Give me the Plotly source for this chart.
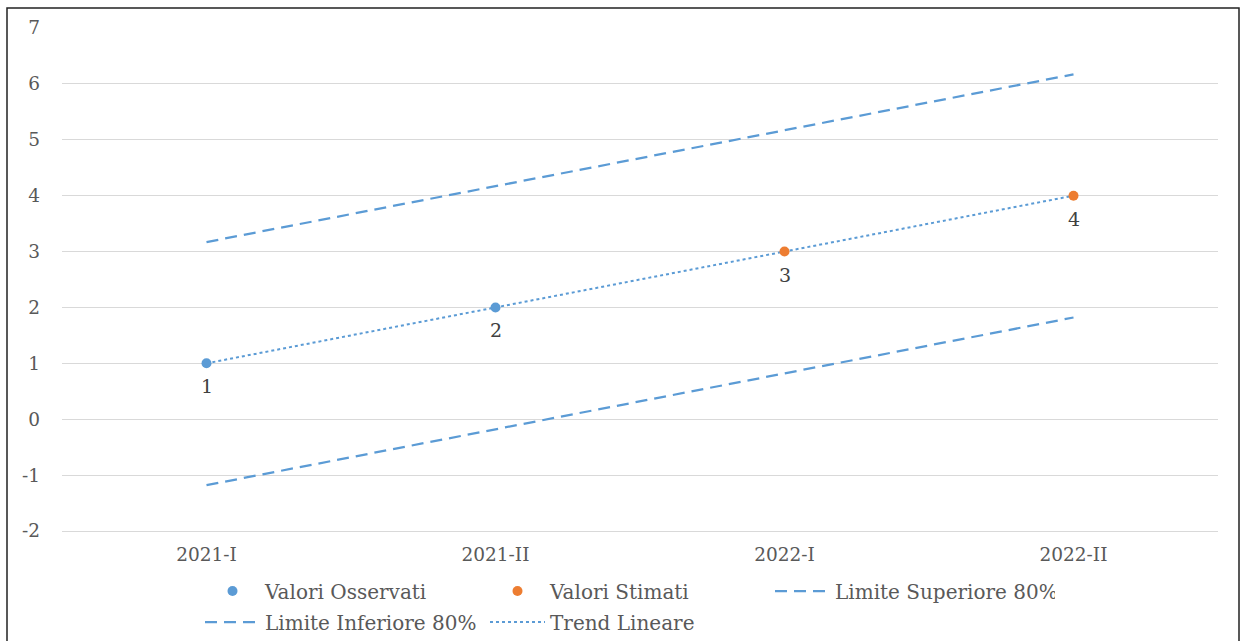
import plotly.graph_objects as go

categories = ["2021-I", "2021-II", "2022-I", "2022-II"]
observed_x = ["2021-I", "2021-II"]
observed_y = [1, 2]
estimated_x = ["2022-I", "2022-II"]
estimated_y = [3, 4]
upper_80 = [3.17, 4.17, 5.17, 6.17]
lower_80 = [-1.18, -0.18, 0.82, 1.82]
trend = [1, 2, 3, 4]
y_ticks = [-2, -1, 0, 1, 2, 3, 4, 5, 6, 7]

BLUE = "#5B9BD5"
ORANGE = "#ED7D31"
FONT = "DejaVu Serif"
W, H = 1243, 641
L, R, T, B = 62, 25, 28, 110
pw, ph = W - L - R, H - T - B

def px_x(p):
    return (p - L) / pw

def px_y(p):
    return (H - B - p) / ph

fig = go.Figure()

fig.add_trace(go.Scatter(
    x=categories, y=trend, mode="lines", name="Trend Lineare",
    line=dict(color=BLUE, width=2, dash="dot"), legend="legend2",
    legendrank=2,
))
fig.add_trace(go.Scatter(
    x=categories, y=upper_80, mode="lines", name="Limite Superiore 80%",
    line=dict(color=BLUE, width=2.25, dash="12px,7px"), legend="legend",
    legendrank=3,
))
fig.add_trace(go.Scatter(
    x=categories, y=lower_80, mode="lines", name="Limite Inferiore 80%",
    line=dict(color=BLUE, width=2.25, dash="12px,7px"), legend="legend2",
    legendrank=1,
))
fig.add_trace(go.Scatter(
    x=observed_x, y=observed_y, mode="markers", name="Valori Osservati",
    marker=dict(color=BLUE, size=10), legend="legend", legendrank=1,
))
fig.add_trace(go.Scatter(
    x=estimated_x, y=estimated_y, mode="markers", name="Valori Stimati",
    marker=dict(color=ORANGE, size=10), legend="legend", legendrank=2,
))

annotations = []
for xs, ys in ((observed_x, observed_y), (estimated_x, estimated_y)):
    for xv, yv in zip(xs, ys):
        annotations.append(dict(
            x=xv, y=yv, xref="x", yref="y", text=str(yv), showarrow=False,
            yshift=-23, font=dict(family=FONT, size=19, color="#404040"),
        ))

legend_common = dict(
    orientation="h", xanchor="left", yanchor="middle",
    font=dict(family=FONT, size=20, color="#595959"),
    entrywidth=215, entrywidthmode="pixels", itemwidth=55,
    bgcolor="rgba(0,0,0,0)", traceorder="normal", borderwidth=0,
)

fig.update_layout(
    width=W, height=H,
    margin=dict(l=L, r=R, t=T, b=B, autoexpand=False),
    paper_bgcolor="white", plot_bgcolor="white",
    font=dict(family=FONT, size=18, color="#595959"),
    xaxis=dict(
        type="category", categoryorder="array", categoryarray=categories,
        range=[-0.5, 3.5], showgrid=False, zeroline=False,
        showline=True, linecolor="#D9D9D9", linewidth=1,
        tickfont=dict(family=FONT, size=18.5, color="#595959"),
        ticklabelstandoff=7,
    ),
    yaxis=dict(
        range=[-2, 7], tickvals=y_ticks, ticktext=[str(v) for v in y_ticks],
        showgrid=True, gridcolor="#D9D9D9", gridwidth=1,
        zeroline=False, showline=False,
        tickfont=dict(family=FONT, size=18.5, color="#595959"),
        ticklabelstandoff=21,
    ),
    legend=dict(x=px_x(200), y=px_y(591), **legend_common),
    legend2=dict(x=px_x(200), y=px_y(622), **legend_common),
    showlegend=True,
    annotations=annotations,
    shapes=[dict(
        type="rect", xref="paper", yref="paper",
        x0=px_x(7), x1=px_x(1239), y0=px_y(660), y1=px_y(8),
        line=dict(color="#222222", width=1.5), layer="above",
    )],
)

fig.write_html(
    "out.html",
    config={"displayModeBar": False},
    post_script="document.body.style.margin='0';document.body.style.padding='0';",
)
